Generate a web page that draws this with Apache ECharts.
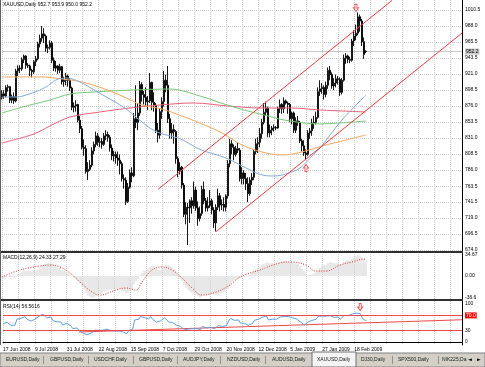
<!DOCTYPE html>
<html><head><meta charset="utf-8">
<script src="https://cdn.jsdelivr.net/npm/echarts/dist/echarts.min.js"></script>
<style>html,body{margin:0;padding:0;background:#fff}#c{width:485px;height:367px}</style>
</head><body><div id="c"></div><script>
// ---------- data ----------
const opens=[888,893,890,902,903,884,889,883,925,929,928,941,946,933,932,926,924,938,942,963,971,977,974,957,958,964,940,929,932,926,931,910,912,918,912,901,874,876,878,856,844,818,816,784,787,793,813,822,834,825,826,822,834,836,832,817,806,808,803,800,795,774,772,742,762,782,778,858,853,866,906,892,888,882,883,909,881,877,842,835,868,882,912,905,858,838,843,840,802,785,790,765,724,734,733,743,736,758,733,718,725,759,743,733,736,743,730,712,734,750,737,738,734,750,795,823,818,808,816,814,774,782,774,767,753,772,776,812,823,825,837,853,867,873,838,842,845,846,845,872,878,872,883,880,878,858,866,842,855,853,827,820,810,808,838,841,852,853,860,896,900,902,892,905,926,920,904,908,914,913,895,912,943,946,941,940,967,974,978,1001,995,966,952.7];
const highs=[898,898,905,906,904,892,895,928,933,933,944,948,947,936,934,928,940,946,966,976,988,985,976,962,968,967,944,939,933,935,932,917,922,920,915,903,881,884,879,862,848,829,821,797,800,818,826,840,838,832,831,838,842,840,835,822,813,812,812,808,798,780,776,768,787,790,866,905,880,911,909,897,902,890,922,910,895,880,852,872,888,925,920,932,865,852,850,842,805,797,792,768,741,740,745,748,770,763,742,735,764,770,747,748,758,746,734,738,760,754,745,748,752,800,830,828,822,820,824,817,790,786,782,776,776,782,815,830,832,845,858,880,882,875,850,848,850,848,875,885,880,888,885,882,880,868,868,860,862,855,830,828,815,842,845,858,862,868,902,912,908,905,910,930,932,923,915,920,918,916,915,948,950,948,945,970,982,990,1007,1004,998,972,953.9];
const lows=[885,886,888,896,880,880,879,881,918,922,925,936,928,929,918,916,921,932,940,958,966,964,952,950,955,936,925,924,921,922,906,903,905,903,897,870,867,868,853,838,815,806,781,772,785,790,808,818,820,818,816,820,828,826,812,800,798,795,792,780,770,760,737,740,760,769,776,845,842,862,882,878,876,870,880,870,868,838,825,830,858,875,895,852,830,830,823,795,776,780,760,720,710,681,712,725,732,729,708,714,722,738,728,728,733,724,705,700,730,728,730,728,728,746,790,808,800,805,810,770,766,766,758,741,750,765,772,808,810,818,830,850,862,832,832,835,840,842,844,866,865,866,878,865,853,850,838,838,848,824,812,806,800,806,830,834,844,850,858,890,893,885,888,900,912,900,898,902,906,890,892,910,935,936,936,938,960,968,975,980,960,942,950.0];
const closes=[893,890,902,903,884,889,883,925,929,928,941,946,933,932,926,924,938,942,963,971,977,974,957,958,964,940,929,932,926,931,910,912,918,912,901,874,876,878,856,844,818,816,784,787,793,813,822,834,825,826,822,834,836,832,817,806,808,803,800,795,774,772,742,762,782,778,858,853,866,906,892,888,882,883,909,881,877,842,835,868,882,912,905,858,838,843,840,802,785,790,765,724,734,733,743,736,758,733,718,725,759,743,733,736,743,730,712,734,750,737,738,734,750,795,823,818,808,816,814,774,782,774,767,753,772,776,812,823,825,837,853,867,873,838,842,845,846,845,872,878,872,883,880,878,858,866,842,855,853,827,820,810,808,838,841,852,853,860,896,900,902,892,905,926,920,904,908,914,913,895,912,943,946,941,940,967,974,978,1001,995,966,948,952.2];
// moving averages: [bar index, price]
const maBlue=[[0,888.5],[7,888.5],[15,894.1],[22,902.5],[27,912.4],[32,915.2],[39,909.6],[46,898.3],[55,884],[62,872],[68,858],[77,840],[89,830],[99,815],[112,803],[122,789],[130,779.2],[136,777.8],[142,780.6],[149,789],[155,805.8],[159,817],[170,856.3],[182,891.3]];
const maOrange=[[0,916.6],[20,916.6],[30,913.8],[40,909.6],[50,901.1],[60,889.9],[70,877.3],[80,871.7],[90,861.9],[100,850.7],[110,838.1],[120,821.2],[130,811.4],[140,807.2],[150,811.4],[160,819.8],[170,826.8],[182,835.3]];
const maGreen=[[0,866.1],[14,877.3],[24,884.3],[34,892.7],[46,895.5],[65,898.3],[84,899.7],[99,889.9],[111,878.7],[121,870.3],[131,863.3],[141,856.3],[159,850.7],[169,852.1],[182,854.9]];
const maPink=[[0,824],[16,836.7],[24,847.9],[34,860.5],[49,867.5],[64,873.1],[79,877.3],[96,880.1],[113,875.9],[129,873.1],[144,873.1],[159,870.3],[182,867.5]];
// channel trend lines
const channelUpper=[[78,759],[195,1024]];
const channelLower=[[107,699.7],[230,978.2]];
// MACD
const macdMain=[-3,-3,-2,-1,-2,-2,-3,0,3,5, 7,9,9,9,8,7,8,9,11,14, 17,19,20,21,21,20,18,16,14,13, 10,8,7,5,3,0,-3,-5,-8,-12, -17,-22,-28,-33,-35,-36.6,-36,-34,-32,-30, -28,-26,-24,-23,-23,-23,-22,-22,-22,-22, -24,-25,-29,-28,-25,-22,-14,-9,-5,1, 5,8,10,12,15,16,16,13,10,10, 12,15,18,18,16,14,12,7,2,-3, -8,-15,-19,-23,-26,-28,-29,-31,-33,-35, -33,-32,-31,-31,-30,-30,-30,-31,-30,-28, -28,-27,-26,-22,-16,-11,-8,-6,-4,-4, -3,-2,-1,0,2,5,8,11,14,16, 18,20,22,22,21,21,21,21,22,23, 24,25,25,24,23,23,22,21,20,17, 12,8,4,2,1,2,4,6,9,13, 17,18,19,21,23,22,21,21,21,19, 20,23,25,26,26,28,30,32,34.67,34, 31,28,24.33];
const macdSignal=[[0,-1.8],[9,9.8],[19,16.4],[24,18],[29,14.8],[34,4.8],[39,-10],[45,-26.7],[49,-31.7],[57,-23.4],[62,-20],[67,-23.4],[70,-10],[75,9.8],[80,14.8],[85,9.8],[90,-3.5],[95,-20],[100,-31.7],[107,-26.7],[114,-15],[119,-1.8],[129,9.8],[139,21.4],[145,23],[152,18],[157,8],[162,8],[169,18],[175,23],[181,28],[182,27.29]];
// RSI
const rsi=[48,46,52,53,44,47,44,60,62,62, 65,67,60,59,55,54,60,62,68,71, 73,71,63,63,66,56,51,53,50,53, 45,46,49,46,43,35,36,37,31,28, 24,24,19,21,23,28,31,34,31,31, 31,32,34,33,30,28,29,28,29,31, 27,26,22,30,35,34,58,57,60,67, 66,64,62,61,67,60,59,52,50,56, 59,64,62,53,50,51,50,44,40,41, 37,32,35,34,36,35,40,35,32,33, 41,38,37,38,39,37,35,40,43,41, 41,40,43,55,62,60,57,59,58,50, 51,49,47,44,48,49,57,59,60,62, 65,68,69,58,59,60,60,60,65,66, 65,67,68,67,63,64,59,61,60,53, 49,45,43,53,55,57,58,60,68,68, 68,66,68,72,69,64,65,66,66,60, 64,70,70,69,68,74,75,76,79,75, 64,58,56.5616];
const rsiTrend=[[38,26.3],[230,58.5]];
const rsiLevels=[70,30];
// arrows
const arrowsDown=[[177,1013.5]];
const arrowsUp=[[152,789]];
const rsiArrowsDown=[[179,92]];
// tick labels
const priceTicks=['1010.5','988.0','965.5','943.5','921.0','898.5','876.0','853.5','831.0','808.5','786.0','763.5','741.5','719.0','696.5','674.0'];
const macdTicks=['34.67','0.00','-36.6'];
const rsiTicks=['100','70.0','30','0'];
const dateTicks=['17 Jun 2008','9 Jul 2008','31 Jul 2008','22 Aug 2008','15 Sep 2008','7 Oct 2008','29 Oct 2008','20 Nov 2008','12 Dec 2008','5 Jan 2009','27 Jan 2009','18 Feb 2009'];
const tabs=['EURUSD,Daily','GBPUSD,Daily','USDCHF,Daily','GBPUSD,Daily','AUDJPY,Daily','NZDUSD,Daily','AUDUSD,Daily','XAUUSD,Daily','DJ30,Daily','SPX500,Daily','NIK225,Da'];
const symbolName='XAUUSD,Daily';
const bidPrice=952.2;

// ---------- build ----------
const MONTHS=['Jan','Feb','Mar','Apr','May','Jun','Jul','Aug','Sep','Oct','Nov','Dec'];
const categories=[];
let d=new Date(Date.UTC(2008,5,17));
while(categories.length<231){const wd=d.getUTCDay();if(wd!==0&&wd!==6)categories.push(d.getUTCDate()+' '+MONTHS[d.getUTCMonth()]+' '+d.getUTCFullYear());d=new Date(d.getTime()+86400000);}
const ohlc=closes.map((c,i)=>[opens[i],c,lows[i],highs[i]]);
const last=closes.length-1;
const FONT='Liberation Sans';
const FS=5;
const gridL=2,gridR=23;
const vSplit={show:true,interval:7,lineStyle:{color:'#cccccc',type:[1,1],width:1}};
function xa(idx,showLabels){return {type:'category',gridIndex:idx,data:categories,boundaryGap:false,
 axisLine:{show:showLabels,lineStyle:{color:'#000'}},axisTick:{show:false},
 axisLabel:{show:showLabels,interval:(i,v)=>dateTicks.indexOf(v)>=0,fontSize:FS,fontFamily:FONT,color:'#000',align:'left',margin:2},
 splitLine:vSplit};}
function ya(idx,mn,mx){return {type:'value',gridIndex:idx,position:'right',min:mn,max:mx,scale:true,
 axisLine:{show:true,onZero:false,lineStyle:{color:'#000'}},axisTick:{show:false},axisLabel:{show:false},splitLine:{show:false}};}
const lbl=(t,extra)=>Object.assign({show:true,position:'end',distance:3,formatter:t,fontSize:FS,fontFamily:FONT,color:'#000'},extra||{});
const priceMarks=priceTicks.map(t=>({yAxis:parseFloat(t),lineStyle:{color:'#cccccc',type:[1,1],width:1},label:lbl(t)}));
priceMarks.push({yAxis:bidPrice,lineStyle:{color:'#c8c8c8',type:'solid',width:1},label:lbl(bidPrice.toFixed(1),{backgroundColor:'#c8c8c8',padding:[1,1,0,1]})});
const macdVals=[34.67,0,-36.6];
const macdMarks=macdTicks.map((t,k)=>({yAxis:macdVals[k],lineStyle:{color:'rgba(0,0,0,0)'},label:lbl(t)}));
const rsiVals=[100,70,30,0];
const rsiMarks=rsiTicks.map((t,k)=>{const isLvl=rsiLevels.indexOf(rsiVals[k])>=0;
 return {yAxis:rsiVals[k],lineStyle:isLvl?{color:'#f04848',type:'solid',width:1}:{color:'rgba(0,0,0,0)'},
 label:lbl(t,t==='70.0'?{backgroundColor:'#ff0000',color:'#fff',padding:[1,1,0,1]}:{})};});
const maLine=(data,color)=>({type:'line',xAxisIndex:0,yAxisIndex:0,data:data,smooth:0.35,symbol:'none',lineStyle:{color:color,width:1},z:4,silent:true});
const downPath='path://M3,0L7,0L7,5L10,5L5,10L0,5L3,5Z';
const upPath='path://M5,0L10,5L7,5L7,10L3,10L3,5L0,5Z';
const arrowSeries=(data,path,xi,yi)=>({type:'scatter',xAxisIndex:xi,yAxisIndex:yi,data:data,symbol:path,symbolSize:[5,7],
 itemStyle:{color:'#fff',borderColor:'#f03030',borderWidth:1},z:6,silent:true});

const tabX=[6,50,94,139,183,227,272,317,361,398,442];
const sepX=[43,88,133,177,220,265,392,438];
const graphics=[
 {type:'rect',shape:{x:0,y:251,width:463,height:2},style:{fill:'#303030'},z:50},
 {type:'rect',shape:{x:0,y:299,width:463,height:2},style:{fill:'#303030'},z:50},
 {type:'rect',shape:{x:0,y:0,width:1,height:345},style:{fill:'#606060'},z:50},
 {type:'rect',shape:{x:0,y:353,width:485,height:14},style:{fill:'#d4d0c8',stroke:'#808080',lineWidth:1},z:50},
 {type:'rect',shape:{x:312,y:352,width:44,height:15},style:{fill:'#f4f4f4',stroke:'#707070',lineWidth:1},z:51},
 {type:'text',left:3,top:2,style:{text:symbolName+' '+opens[last].toFixed(1)+' '+highs[last].toFixed(1)+' '+lows[last].toFixed(1)+' '+closes[last].toFixed(1),font:FS+'px '+FONT,fill:'#000'},z:60},
 {type:'text',left:3,top:255,style:{text:'MACD(12,26,9) '+macdMain[last].toFixed(2)+' '+macdSignal[macdSignal.length-1][1].toFixed(2),font:FS+'px '+FONT,fill:'#000'},z:60},
 {type:'text',left:3,top:304,style:{text:'RSI(14) '+rsi[last].toFixed(4),font:FS+'px '+FONT,fill:'#000'},z:60},
 {type:'text',left:468,top:357,style:{text:'\u25C4',font:'5px DejaVu Sans',fill:'#000'},z:60},
 {type:'text',left:477,top:357,style:{text:'\u25BA',font:'5px DejaVu Sans',fill:'#000'},z:60}
];
tabs.forEach((t,k)=>graphics.push({type:'text',left:tabX[k],top:357,style:{text:t,font:FS+'px '+FONT,fill:'#202020'},z:60}));
sepX.forEach(x=>graphics.push({type:'rect',shape:{x:x,y:356,width:0.8,height:8},style:{fill:'#808080'},z:60}));

const chart=echarts.init(document.getElementById('c'),null,{renderer:'canvas'});
chart.setOption({
 animation:false,backgroundColor:'#fff',
 grid:[{left:gridL,right:gridR,top:0,height:251},{left:gridL,right:gridR,top:252,height:47},{left:gridL,right:gridR,top:301,height:44}],
 xAxis:[xa(0,false),xa(1,false),xa(2,true)],
 yAxis:[ya(0,672.6,1024.5),ya(1,-38.26,39.64),ya(2,-7.9,107.9)],
 series:[
  {type:'line',xAxisIndex:0,yAxisIndex:0,data:maPink,smooth:0.35,symbol:'none',lineStyle:{color:'#e8607a',width:1},z:4,silent:true,
   markLine:{silent:true,symbol:'none',animation:false,data:priceMarks,z:1}},
  maLine(maGreen,'#78c878'),
  maLine(maOrange,'#f4a860'),
  maLine(maBlue,'#86acd8'),
  {type:'candlestick',xAxisIndex:0,yAxisIndex:0,data:ohlc,barWidth:1.4,z:3,silent:true,
   itemStyle:{color:'#d8d8d8',color0:'#000000',borderColor:'#000000',borderColor0:'#000000',borderWidth:0.9}},
  {type:'line',xAxisIndex:0,yAxisIndex:0,data:channelUpper,symbol:'none',lineStyle:{color:'#f03c3c',width:1},z:5,silent:true},
  {type:'line',xAxisIndex:0,yAxisIndex:0,data:channelLower,symbol:'none',lineStyle:{color:'#f03c3c',width:1},z:5,silent:true},
  arrowSeries(arrowsDown,downPath,0,0),
  arrowSeries(arrowsUp,upPath,0,0),
  {type:'bar',xAxisIndex:1,yAxisIndex:1,data:macdMain,barWidth:0.8,itemStyle:{color:'#d2d2d2'},silent:true,
   markLine:{silent:true,symbol:'none',animation:false,data:macdMarks}},
  {type:'line',xAxisIndex:1,yAxisIndex:1,data:macdSignal,smooth:0.4,symbol:'none',lineStyle:{color:'#e03030',width:1,type:[1,1.5]},z:4,silent:true},
  {type:'line',xAxisIndex:2,yAxisIndex:2,data:rsi,symbol:'none',lineStyle:{color:'#5aa0e6',width:1},z:4,silent:true,
   markLine:{silent:true,symbol:'none',animation:false,data:rsiMarks}},
  {type:'line',xAxisIndex:2,yAxisIndex:2,data:rsiTrend,symbol:'none',lineStyle:{color:'#f04848',width:1},z:3,silent:true},
  arrowSeries(rsiArrowsDown,downPath,2,2)
 ],
 graphic:graphics
});
</script></body></html>
